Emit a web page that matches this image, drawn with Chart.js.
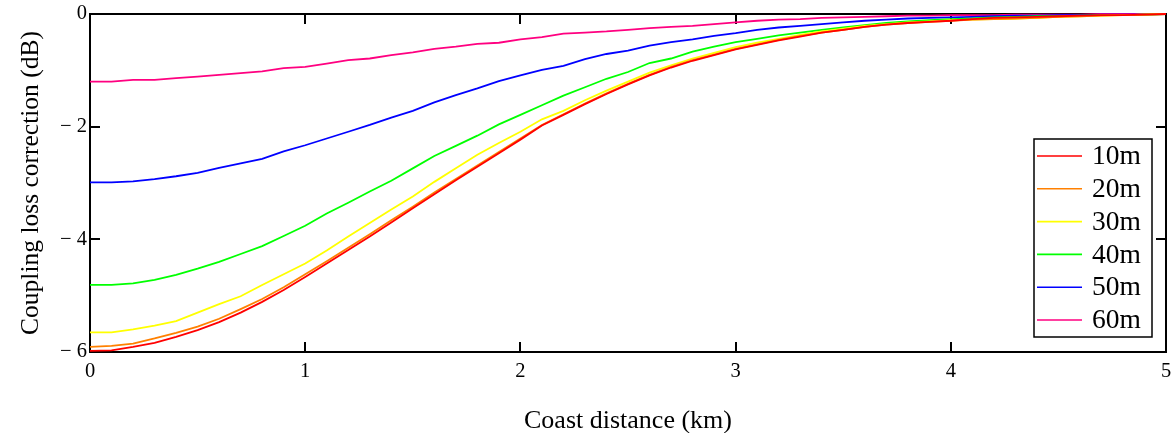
<!DOCTYPE html>
<html>
<head>
<meta charset="utf-8">
<script src="https://cdn.jsdelivr.net/npm/chart.js@4"></script>
<style>
  html, body { margin: 0; padding: 0; background: #fff; }
  #wrap { width: 1172px; height: 433px; position: relative; }
</style>
</head>
<body>
<div id="wrap"><canvas id="lossChart" width="1172" height="433"></canvas></div>
<script>
// distance from coast (km)
const distances = [0, 0.1, 0.2, 0.3, 0.4, 0.5, 0.6, 0.7, 0.8, 0.9,
    1, 1.1, 1.2, 1.3, 1.4, 1.5, 1.6, 1.7, 1.8, 1.9,
    2, 2.1, 2.2, 2.3, 2.4, 2.5, 2.6, 2.7, 2.8, 2.9,
    3, 3.1, 3.2, 3.3, 3.4, 3.5, 3.6, 3.7, 3.8, 3.9,
    4, 4.1, 4.2, 4.3, 4.4, 4.5, 4.6, 4.7, 4.8, 4.9, 5];

const seriesNames = ['10m', '20m', '30m', '40m', '50m', '60m'];
const seriesColors = ['#ff0000', '#ff8000', '#ffff00', '#00ff00', '#0000ff', '#ff0080'];

// coupling loss correction (dB)
const loss10 = [-5.98, -5.97, -5.91, -5.84, -5.73, -5.61, -5.47, -5.30, -5.11, -4.90,
    -4.67, -4.43, -4.19, -3.95, -3.70, -3.45, -3.20, -2.95, -2.71, -2.47,
    -2.23, -1.98, -1.79, -1.60, -1.42, -1.25, -1.09, -0.95, -0.83, -0.73,
    -0.63, -0.55, -0.47, -0.40, -0.33, -0.28, -0.23, -0.19, -0.16, -0.14,
    -0.12, -0.09, -0.07, -0.06, -0.05, -0.04, -0.03, -0.02, -0.02, -0.01, 0];
const loss20 = [-5.91, -5.89, -5.85, -5.76, -5.66, -5.55, -5.41, -5.24, -5.06, -4.85,
    -4.62, -4.39, -4.15, -3.91, -3.66, -3.42, -3.17, -2.93, -2.69, -2.45,
    -2.21, -1.97, -1.78, -1.59, -1.41, -1.24, -1.08, -0.94, -0.82, -0.72,
    -0.62, -0.54, -0.46, -0.39, -0.33, -0.28, -0.23, -0.19, -0.16, -0.14,
    -0.12, -0.10, -0.09, -0.08, -0.07, -0.05, -0.04, -0.03, -0.02, -0.01, 0];
const loss30 = [-5.65, -5.65, -5.60, -5.53, -5.45, -5.30, -5.15, -5.01, -4.81, -4.62,
    -4.43, -4.20, -3.95, -3.71, -3.47, -3.24, -2.98, -2.74, -2.50, -2.29,
    -2.09, -1.87, -1.72, -1.53, -1.36, -1.20, -1.04, -0.91, -0.79, -0.69,
    -0.59, -0.51, -0.44, -0.37, -0.31, -0.26, -0.21, -0.18, -0.15, -0.13,
    -0.11, -0.10, -0.09, -0.08, -0.07, -0.05, -0.04, -0.03, -0.02, -0.01, 0];
const loss40 = [-4.81, -4.81, -4.78, -4.72, -4.63, -4.52, -4.40, -4.26, -4.12, -3.94,
    -3.76, -3.54, -3.35, -3.15, -2.96, -2.74, -2.52, -2.34, -2.16, -1.96,
    -1.79, -1.62, -1.45, -1.30, -1.15, -1.03, -0.87, -0.79, -0.67, -0.58,
    -0.50, -0.44, -0.38, -0.33, -0.28, -0.24, -0.20, -0.16, -0.13, -0.11,
    -0.09, -0.08, -0.06, -0.05, -0.04, -0.04, -0.03, -0.02, -0.02, -0.01, 0];
const loss50 = [-2.99, -2.99, -2.97, -2.93, -2.88, -2.82, -2.73, -2.65, -2.57, -2.44,
    -2.33, -2.21, -2.09, -1.97, -1.84, -1.72, -1.57, -1.44, -1.32, -1.19,
    -1.09, -0.99, -0.92, -0.80, -0.71, -0.65, -0.56, -0.50, -0.45, -0.39,
    -0.34, -0.28, -0.24, -0.21, -0.18, -0.15, -0.12, -0.10, -0.08, -0.07,
    -0.06, -0.05, -0.04, -0.03, -0.03, -0.02, -0.02, -0.01, -0.01, -0.01, 0];
const loss60 = [-1.20, -1.20, -1.17, -1.17, -1.14, -1.11, -1.08, -1.05, -1.02, -0.96,
    -0.94, -0.88, -0.82, -0.79, -0.73, -0.68, -0.62, -0.58, -0.53, -0.51,
    -0.45, -0.41, -0.35, -0.33, -0.31, -0.28, -0.25, -0.23, -0.21, -0.18,
    -0.15, -0.12, -0.10, -0.09, -0.07, -0.06, -0.05, -0.04, -0.03, -0.03,
    -0.02, -0.02, -0.02, -0.01, -0.01, -0.01, -0.01, 0, 0, 0, 0];

const allLoss = [loss10, loss20, loss30, loss40, loss50, loss60];

const xTicks = [0, 1, 2, 3, 4, 5];
const yTicks = [0, -2, -4, -6];

const serif = "'Liberation Serif', 'Times New Roman', serif";

// frame + inward tick marks, drawn under the lines
const framePlugin = {
    id: 'frame',
    beforeDatasetsDraw(chart) {
        const { ctx, chartArea: a, scales } = chart;
        ctx.save();
        ctx.strokeStyle = '#000';
        ctx.lineWidth = 2;
        ctx.strokeRect(a.left, a.top, a.right - a.left, a.bottom - a.top);
        xTicks.forEach(v => {
            const px = Math.round(scales.x.getPixelForValue(v));
            ctx.beginPath();
            ctx.moveTo(px, a.bottom); ctx.lineTo(px, a.bottom - 10);
            ctx.moveTo(px, a.top); ctx.lineTo(px, a.top + 10);
            ctx.stroke();
        });
        yTicks.forEach(v => {
            const py = Math.round(scales.y.getPixelForValue(v));
            ctx.beginPath();
            ctx.moveTo(a.left, py); ctx.lineTo(a.left + 10, py);
            ctx.moveTo(a.right, py); ctx.lineTo(a.right - 10, py);
            ctx.stroke();
        });
        ctx.restore();
    },
    afterDraw(chart) {
        const { ctx } = chart;
        ctx.save();
        // axis titles
        ctx.fillStyle = '#000';
        ctx.font = '26px ' + serif;
        ctx.textAlign = 'center';
        ctx.textBaseline = 'middle';
        ctx.fillText('Coast distance (km)', 628, 421);
        ctx.font = '25.5px ' + serif;
        ctx.translate(31, 183);
        ctx.rotate(-Math.PI / 2);
        ctx.fillText('Coupling loss correction (dB)', 0, 0);
        ctx.restore();

        // legend box
        const box = { x: 1034, y: 139, w: 118, h: 198 };
        ctx.save();
        ctx.fillStyle = '#fff';
        ctx.fillRect(box.x, box.y, box.w, box.h);
        ctx.strokeStyle = '#000';
        ctx.lineWidth = 1.5;
        ctx.strokeRect(box.x, box.y, box.w, box.h);
        ctx.font = '27.5px ' + serif;
        ctx.textAlign = 'left';
        ctx.textBaseline = 'middle';
        chart.data.datasets.forEach((ds, i) => {
            const yy = box.y + 17 + i * 32.8;
            ctx.strokeStyle = ds.borderColor;
            ctx.lineWidth = 1.6;
            ctx.beginPath();
            ctx.moveTo(box.x + 3, yy); ctx.lineTo(box.x + 48, yy);
            ctx.stroke();
            ctx.fillStyle = '#000';
            ctx.fillText(ds.label, box.x + 58, yy + 1);
        });
        ctx.restore();
    }
};

const datasets = seriesNames.map((name, i) => ({
    label: name,
    data: distances.map((d, j) => ({ x: d, y: allLoss[i][j] })),
    borderColor: seriesColors[i],
    backgroundColor: seriesColors[i],
    borderWidth: 1.8,
    pointRadius: 0,
    tension: 0,
    clip: false
}));

new Chart(document.getElementById('lossChart').getContext('2d'), {
    type: 'line',
    data: { datasets: datasets },
    options: {
        responsive: false,
        animation: false,
        events: [],
        layout: { autoPadding: false, padding: { top: 14, right: 6, left: 0, bottom: 0 } },
        plugins: {
            legend: { display: false },
            tooltip: { enabled: false }
        },
        scales: {
            x: {
                type: 'linear',
                min: 0,
                max: 5,
                afterFit(scale) {
                    scale.height = 81;
                    scale.paddingLeft = 0;
                    scale.paddingRight = 0;
                },
                afterBuildTicks(scale) { scale.ticks = xTicks.map(v => ({ value: v })); },
                grid: { display: false, drawTicks: false },
                border: { display: false },
                ticks: {
                    color: '#000',
                    padding: 7,
                    maxRotation: 0,
                    font: { family: serif, size: 20.5 }
                }
            },
            y: {
                type: 'linear',
                min: -6,
                max: 0,
                afterFit(scale) {
                    scale.width = 90;
                    scale.paddingTop = 0;
                    scale.paddingBottom = 0;
                },
                afterBuildTicks(scale) { scale.ticks = yTicks.map(v => ({ value: v })); },
                grid: { display: false, drawTicks: false },
                border: { display: false },
                ticks: {
                    color: '#000',
                    padding: 3,
                    font: { family: serif, size: 20.5 },
                    callback: v => v === 0 ? '0' : '\u2212 ' + Math.abs(v)
                }
            }
        }
    },
    plugins: [framePlugin]
});
</script>
</body>
</html>
